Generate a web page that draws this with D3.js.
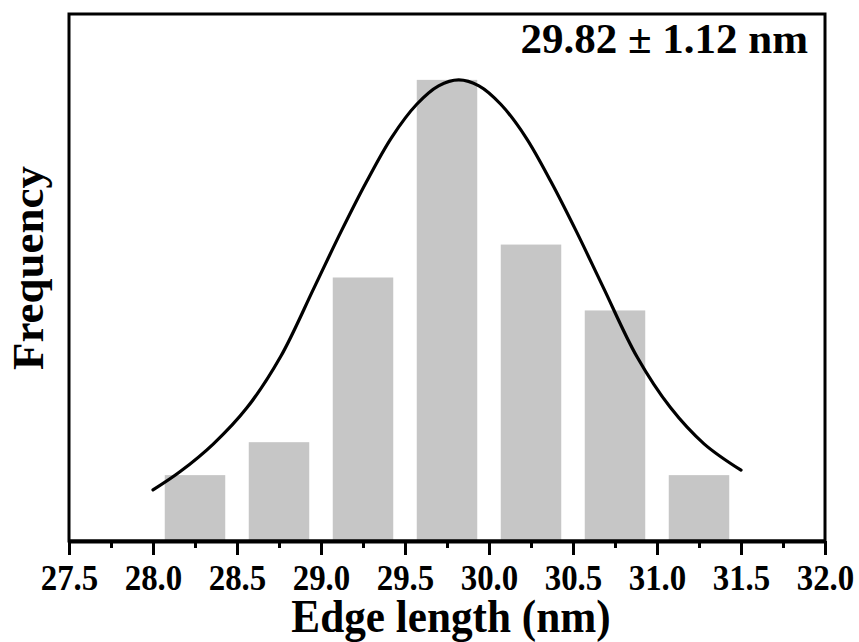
<!DOCTYPE html>
<html>
<head>
<meta charset="utf-8">
<script src="https://cdn.jsdelivr.net/npm/d3@7"></script>
<style>
  html, body { margin: 0; padding: 0; background: #fff; }
  svg { display: block; }
  text { font-family: "Liberation Serif", "Times New Roman", serif; font-weight: bold; fill: #000; }
</style>
</head>
<body>
<svg id="chart" width="859" height="642"></svg>
<script>
// ---- data ----
const binCenters = [28.25, 28.75, 29.25, 29.75, 30.25, 30.75, 31.25];
const counts = [2, 3, 8, 14, 9, 7, 2];
const binWidth = 0.5;
const majorTicks = [27.5, 28.0, 28.5, 29.0, 29.5, 30.0, 30.5, 31.0, 31.5, 32.0];
const minorTicks = [27.75, 28.25, 28.75, 29.25, 29.75, 30.25, 30.75, 31.25, 31.75];
// fitted curve, points
const fitX = [28.00, 28.16, 28.36, 28.56, 28.76, 28.96, 29.12, 29.27, 29.42, 29.57, 29.70, 29.82, 29.94, 30.07, 30.22, 30.37, 30.52, 30.68, 30.88, 31.08, 31.28, 31.50];
const fitY = [1.55, 2.10, 2.95, 4.05, 5.60, 7.70, 9.40, 10.90, 12.25, 13.26, 13.82, 14.00, 13.82, 13.26, 12.25, 10.90, 9.40, 7.70, 5.60, 4.05, 2.95, 2.15];
const xDomain = [27.5, 32.0];
const yDomain = [0, 16];
const xTitle = "Edge length (nm)";
const yTitle = "Frequency";
const annotation = "29.82 ± 1.12 nm";

// ---- layout ----
const L = 69, R = 825, T = 14, B = 541;
const svg = d3.select("#chart");
const x = d3.scaleLinear().domain(xDomain).range([L, R]);
const y = d3.scaleLinear().domain(yDomain).range([B, T]);

// bars
const barFrac = 0.72;
svg.append("g").selectAll("rect").data(binCenters).join("rect")
  .attr("x", d => x(d - binWidth * barFrac / 2))
  .attr("width", d => x(d + binWidth * barFrac / 2) - x(d - binWidth * barFrac / 2))
  .attr("y", (d, i) => y(counts[i]))
  .attr("height", (d, i) => y(0) - y(counts[i]))
  .attr("fill", "#c6c6c6");

// fit curve
const line = d3.line().x(d => x(d[0])).y(d => y(d[1])).curve(d3.curveCatmullRom.alpha(0.5));
svg.append("path").datum(fitX.map((v, i) => [v, fitY[i]]))
  .attr("d", line).attr("fill", "none").attr("stroke", "#000")
  .attr("stroke-width", 3.2).attr("stroke-linecap", "round");

// frame
svg.append("rect").attr("x", L).attr("y", T).attr("width", R - L).attr("height", B - T)
  .attr("fill", "none").attr("stroke", "#000").attr("stroke-width", 3);

// bottom axis
const sx = 0.94;
const axisMajor = d3.axisBottom(x).tickValues(majorTicks).tickFormat(d3.format(".1f")).tickSize(14).tickSizeOuter(0);
const gx = svg.append("g").attr("transform", `translate(0,${B})`).call(axisMajor);
gx.select(".domain").attr("stroke-width", 4);
gx.selectAll(".tick line").attr("stroke-width", 3);
gx.selectAll(".tick text")
  .attr("font-family", "Liberation Serif").attr("font-weight", "bold").attr("font-size", 35)
  .attr("y", 49).attr("dy", 0)
  .attr("transform", `scale(${sx},1)`);

const axisMinor = d3.axisBottom(x).tickValues(minorTicks).tickFormat("").tickSize(7).tickSizeOuter(0);
const gm = svg.append("g").attr("transform", `translate(0,${B})`).call(axisMinor);
gm.select(".domain").remove();
gm.selectAll(".tick line").attr("stroke-width", 3);

// titles
const tx = 0.92;
svg.append("text").attr("x", 451 / tx).attr("y", 632)
  .attr("transform", `scale(${tx},1)`)
  .attr("text-anchor", "middle").attr("font-size", 47).text(xTitle);
svg.append("text").attr("transform", `translate(43,268) rotate(-90)`)
  .attr("text-anchor", "middle").attr("font-size", 45).text(yTitle);
svg.append("text").attr("x", 808).attr("y", 53).attr("text-anchor", "end")
  .attr("font-size", 43).text(annotation);
</script>
</body>
</html>
